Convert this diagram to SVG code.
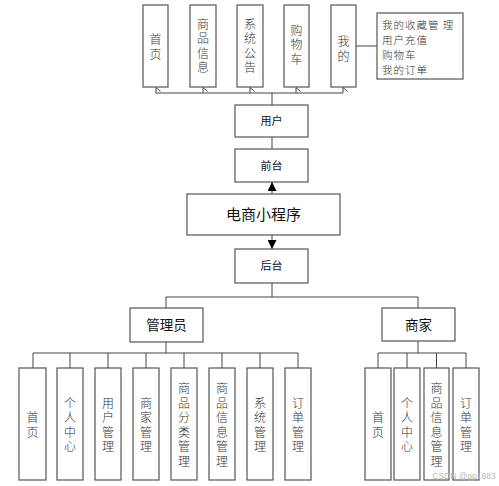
<svg xmlns="http://www.w3.org/2000/svg" width="499" height="486" viewBox="0 0 499 486">
<defs>
<style>
.box{fill:#fff;stroke:#555;stroke-width:1.2}
.ln{fill:none;stroke:#444;stroke-width:1}
.v{font-family:"Noto Sans CJK SC","Liberation Serif",serif;font-size:12px;fill:#333;text-anchor:middle;font-weight:300;writing-mode:vertical-rl;letter-spacing:2.5px}
.sans{font-family:"Noto Sans CJK SC","Liberation Sans",sans-serif;fill:#111;text-anchor:middle}
.lt{font-family:"Noto Sans CJK SC","Liberation Serif",serif;font-size:10.5px;fill:#333;font-weight:300;letter-spacing:1px}
</style>
<marker id="open" viewBox="0 0 8 6" refX="4" refY="0.5" markerWidth="8" markerHeight="6" orient="auto-start-reverse" markerUnits="userSpaceOnUse">
<path d="M0,5 L4,0.5 L8,5" fill="none" stroke="#444" stroke-width="1"/>
</marker>
<marker id="solid" viewBox="0 0 10 10" refX="10" refY="5" markerWidth="9" markerHeight="9" orient="auto" markerUnits="userSpaceOnUse">
<path d="M0,0 L10,5 L0,10 Z" fill="#000"/>
</marker>
</defs>
<rect width="499" height="486" fill="#fff"/>
<g id="connectors">
<path class="ln" d="M156,93 H343"/>
<line class="ln" x1="156" y1="93" x2="156" y2="87.5" marker-end="url(#open)"/>
<line class="ln" x1="203" y1="93" x2="203" y2="87.5" marker-end="url(#open)"/>
<line class="ln" x1="250" y1="93" x2="250" y2="87.5" marker-end="url(#open)"/>
<line class="ln" x1="296" y1="93" x2="296" y2="87.5" marker-end="url(#open)"/>
<line class="ln" x1="343" y1="93" x2="343" y2="87.5" marker-end="url(#open)"/>
<path class="ln" d="M356,46 H377"/>
<path class="ln" d="M272,93 V105"/>
<path class="ln" d="M272,137 V149"/>
<line class="ln" x1="272" y1="194" x2="272" y2="182" marker-end="url(#solid)" stroke="#000"/>
<line class="ln" x1="272" y1="235" x2="272" y2="249" marker-end="url(#solid)" stroke="#000"/>
<path class="ln" d="M272,283 V297 M166,308 V297 H418 V308"/>
<path class="ln" d="M166,342 V353 M33,368 V353 H298 V368 M70,353 V368 M108,353 V368 M146,353 V368 M184,353 V368 M222,353 V368 M260,353 V368"/>
<path class="ln" d="M418,341 V353 M378,368 V353 H466 V368 M407,353 V368 M436.5,353 V368"/>
</g>
<g id="n_home_top"><rect class="box" x="143" y="5" width="25" height="82"/><text class="v" x="155.5" y="48">首页</text></g>
<g id="n_goods_top"><rect class="box" x="190" y="5" width="26" height="82"/><text class="v" x="203" y="47">商品信息</text></g>
<g id="n_notice_top"><rect class="box" x="237" y="5" width="26" height="82"/><text class="v" x="250" y="47">系统公告</text></g>
<g id="n_cart_top"><rect class="box" x="284" y="5" width="25" height="82"/><text class="v" x="296.5" y="46">购物车</text></g>
<g id="n_mine_top"><rect class="box" x="331" y="5" width="25" height="82"/><text class="v" x="343.5" y="50">我的</text></g>
<g id="n_mine_detail"><rect class="box" x="377" y="13" width="86" height="66"/>
<text class="lt" x="382" y="29">我的收藏管 理</text>
<text class="lt" x="382" y="44">用户充值</text>
<text class="lt" x="382" y="59">购物车</text>
<text class="lt" x="382" y="74">我的订单</text></g>
<g id="n_user"><rect class="box" x="235" y="105" width="73" height="32"/><text class="sans" x="271.5" y="125" font-size="11">用户</text></g>
<g id="n_front"><rect class="box" x="235" y="149" width="73" height="33"/><text class="sans" x="271.5" y="169.5" font-size="11">前台</text></g>
<g id="n_app"><rect class="box" x="187" y="194" width="153" height="41"/><text class="sans" x="263.5" y="220" font-size="15">电商小程序</text></g>
<g id="n_back"><rect class="box" x="235" y="249" width="73" height="34"/><text class="sans" x="271.5" y="270" font-size="11">后台</text></g>
<g id="n_admin"><rect class="box" x="130" y="308" width="73" height="34"/><text class="sans" x="166.5" y="330" font-size="13.5">管理员</text></g>
<g id="n_merchant"><rect class="box" x="382" y="308" width="73" height="33"/><text class="sans" x="418.5" y="330" font-size="13.5">商家</text></g>
<g id="a_home"><rect class="box" x="19" y="368" width="27" height="112"/><text class="v" x="32.5" y="426">首页</text></g>
<g id="a_profile"><rect class="box" x="57" y="368" width="26" height="112"/><text class="v" x="70" y="426">个人中心</text></g>
<g id="a_users"><rect class="box" x="95" y="368" width="26" height="112"/><text class="v" x="108" y="426">用户管理</text></g>
<g id="a_merchants"><rect class="box" x="133" y="368" width="26" height="112"/><text class="v" x="146" y="426">商家管理</text></g>
<g id="a_category"><rect class="box" x="171" y="368" width="26" height="112"/><text class="v" x="184" y="426">商品分类管理</text></g>
<g id="a_goods"><rect class="box" x="209" y="368" width="26" height="112"/><text class="v" x="222" y="426">商品信息管理</text></g>
<g id="a_system"><rect class="box" x="247" y="368" width="26" height="112"/><text class="v" x="260" y="426">系统管理</text></g>
<g id="a_orders"><rect class="box" x="285" y="368" width="26" height="112"/><text class="v" x="298" y="426">订单管理</text></g>
<g id="m_home"><rect class="box" x="365" y="368" width="26" height="112"/><text class="v" x="378" y="426">首页</text></g>
<g id="m_profile"><rect class="box" x="394" y="368" width="26" height="112"/><text class="v" x="407" y="426">个人中心</text></g>
<g id="m_goods"><rect class="box" x="424" y="368" width="25" height="112"/><text class="v" x="436.5" y="426">商品信息管理</text></g>
<g id="m_orders"><rect class="box" x="453" y="368" width="26" height="112"/><text class="v" x="466" y="426">订单管理</text></g>
<text x="464" y="479" font-family="Liberation Sans, sans-serif" font-size="8.5" fill="#bbb" text-anchor="middle">CSDN @gp1683</text>
</svg>
